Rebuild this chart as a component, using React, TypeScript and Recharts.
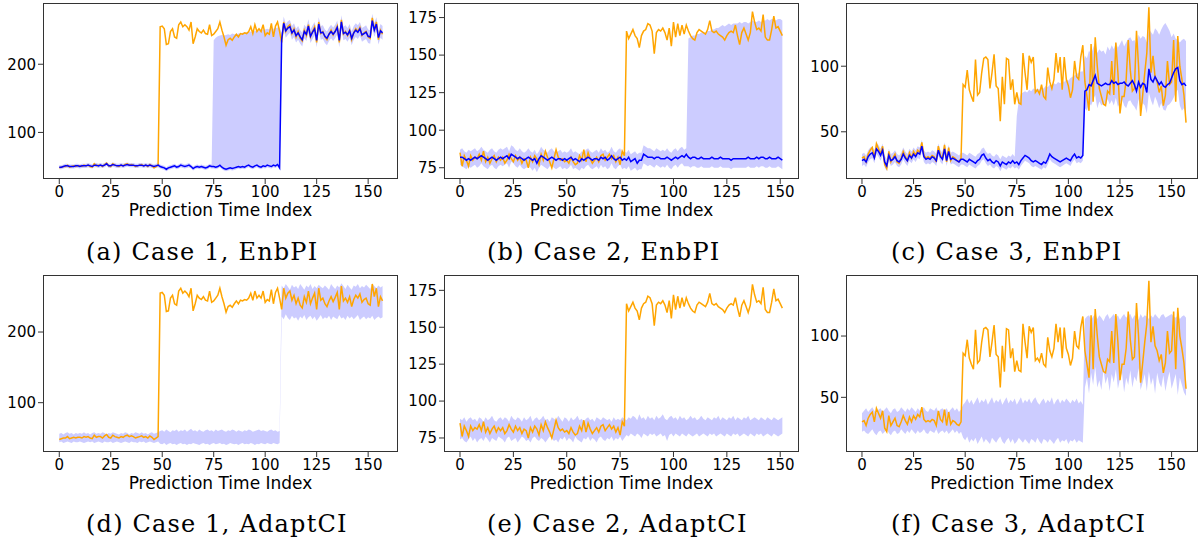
import { ComposedChart, Line, Area, XAxis, YAxis } from 'recharts';

// ---- data ----

const X_TICKS = [0, 25, 50, 75, 100, 125, 150];

// Case 1 (indices 0..157)
const C1_TRUTH = [
  48, 49, 50, 50, 52, 49, 50, 51, 50, 51,
  51, 50, 52, 51, 52, 50, 49, 54, 51, 52,
  52, 50, 53, 55, 51, 50, 54, 52, 51, 50,
  52, 51, 53, 54, 52, 53, 52, 50, 51, 52,
  53, 51, 52, 50, 53, 51, 48, 50, 52, 255,
  256, 252, 229, 230, 248, 252, 240, 238, 258, 262,
  255, 258, 255, 250, 262, 230, 240, 252, 248, 246,
  250, 245, 244, 258, 242, 244, 248, 252, 262, 250,
  240, 228, 236, 238, 235, 240, 244, 240, 245, 244,
  246, 245, 248, 255, 245, 258, 248, 252, 248, 258,
  242, 246, 244, 260, 240, 256, 262, 248, 232, 262,
  248, 255, 258, 245, 252, 240, 248, 238, 234, 250,
  242, 258, 240, 248, 255, 232, 262, 245, 248, 240,
  236, 244, 250, 243, 249, 256, 232, 265, 244, 248,
  242, 250, 236, 246, 252, 248, 254, 242, 246, 248,
  240, 238, 268, 250, 262, 236, 250, 244,
];
const C1_PRED = [
  49, 49, 50, 51, 51, 50, 50, 50, 51, 51,
  50, 51, 51, 51, 52, 51, 50, 52, 52, 51,
  52, 51, 52, 54, 51, 51, 53, 52, 51, 51,
  52, 51, 52, 53, 52, 52, 52, 51, 51, 52,
  52, 51, 52, 51, 52, 51, 50, 51, 52, 50,
  49, 48, 46, 48, 49, 50, 51, 49, 50, 52,
  51, 50, 51, 52, 50, 47, 49, 50, 49, 50,
  49, 48, 49, 51, 50, 50, 49, 50, 52, 49,
  47, 46, 47, 48, 47, 48, 49, 50, 49, 50,
  49, 51, 52, 50, 49, 51, 52, 50, 49, 51,
  50, 52, 51, 50, 52, 51, 53, 48, 236, 260,
  249, 253, 255, 246, 250, 242, 246, 240, 236, 248,
  244, 256, 241, 247, 252, 235, 259, 246, 247, 241,
  238, 244, 248, 244, 248, 254, 235, 262, 245, 247,
  243, 249, 238, 246, 250, 247, 252, 243, 245, 247,
  241, 240, 264, 250, 259, 239, 249, 246,
];
const C1_ENB_LO = [
  46, 46, 47, 48, 48, 47, 47, 47, 48, 48,
  47, 48, 48, 48, 49, 48, 47, 49, 49, 48,
  49, 48, 49, 51, 48, 48, 50, 49, 48, 48,
  49, 48, 49, 50, 49, 49, 49, 48, 48, 49,
  49, 48, 49, 48, 49, 48, 47, 48, 49, 47,
  46, 45, 43, 45, 46, 47, 48, 46, 47, 49,
  48, 47, 48, 49, 47, 44, 46, 47, 46, 47,
  46, 45, 46, 48, 47, 47, 46, 47, 49, 46,
  44, 43, 44, 45, 44, 45, 46, 47, 46, 47,
  46, 48, 49, 47, 46, 48, 49, 47, 46, 48,
  47, 49, 48, 47, 49, 48, 50, 45, 226, 250,
  239, 243, 246, 236, 240, 232, 236, 230, 226, 238,
  234, 246, 231, 237, 242, 225, 249, 236, 237, 231,
  228, 234, 238, 234, 238, 244, 225, 252, 235, 237,
  233, 239, 228, 236, 240, 237, 242, 233, 235, 237,
  231, 230, 254, 240, 249, 229, 239, 236,
];
const C1_ENB_HI = [
  52, 52, 53, 54, 54, 53, 53, 53, 54, 54,
  53, 54, 54, 54, 55, 54, 53, 55, 55, 54,
  55, 54, 55, 57, 54, 54, 56, 55, 54, 54,
  55, 54, 55, 56, 55, 55, 55, 54, 54, 55,
  55, 54, 55, 54, 55, 54, 53, 54, 55, 53,
  52, 51, 49, 51, 52, 53, 54, 52, 53, 55,
  54, 53, 54, 55, 53, 50, 52, 53, 52, 53,
  52, 51, 52, 54, 53, 235, 239, 241, 242, 243,
  242, 243, 244, 243, 245, 244, 244, 245, 245, 246,
  246, 247, 247, 248, 247, 249, 248, 250, 250, 251,
  251, 252, 251, 253, 252, 253, 254, 254, 246, 270,
  259, 263, 265, 256, 260, 252, 256, 250, 246, 258,
  254, 266, 251, 257, 262, 245, 269, 256, 257, 251,
  248, 254, 258, 254, 258, 264, 245, 272, 255, 257,
  253, 259, 248, 256, 260, 257, 262, 253, 255, 257,
  251, 250, 274, 260, 269, 249, 259, 256,
];
const C1_ADA_LO = [
  44, 45, 43, 44, 45, 44, 43, 45, 44, 44,
  45, 44, 43, 44, 45, 44, 45, 43, 44, 45,
  44, 43, 45, 44, 44, 45, 43, 44, 45, 44,
  43, 44, 45, 44, 43, 45, 44, 44, 43, 45,
  44, 45, 43, 44, 45, 44, 43, 44, 45, 42,
  41, 43, 40, 42, 43, 41, 42, 40, 42, 43,
  41, 42, 40, 42, 41, 43, 42, 41, 40, 42,
  43, 41, 42, 40, 42, 43, 41, 42, 43, 41,
  42, 40, 41, 43, 42, 41, 42, 40, 42, 43,
  41, 42, 41, 43, 42, 40, 42, 41, 43, 42,
  41, 43, 42, 41, 43, 42, 41, 43, 222, 218,
  225, 220, 217, 223, 219, 221, 216, 222, 219, 224,
  217, 221, 223, 218, 222, 216, 220, 224, 218, 221,
  219, 223, 217, 222, 220, 218, 224, 219, 221, 217,
  223, 219, 222, 218, 221, 224, 217, 220, 222, 218,
  221, 219, 223, 217, 220, 222, 219, 221,
];
const C1_ADA_HI = [
  56, 57, 55, 57, 58, 56, 57, 55, 57, 56,
  57, 56, 58, 56, 57, 55, 57, 58, 56, 57,
  56, 58, 57, 55, 57, 56, 58, 57, 56, 55,
  57, 56, 58, 57, 55, 57, 56, 58, 57, 56,
  58, 56, 57, 55, 57, 58, 56, 57, 58, 60,
  61, 59, 62, 60, 58, 61, 60, 62, 59, 61,
  60, 62, 59, 61, 63, 60, 61, 59, 62, 60,
  59, 61, 62, 60, 61, 59, 62, 60, 61, 62,
  60, 59, 61, 60, 62, 61, 59, 61, 60, 59,
  61, 60, 62, 61, 59, 60, 61, 62, 60, 61,
  60, 59, 61, 62, 60, 61, 59, 60, 266, 262,
  268, 264, 260, 267, 263, 265, 261, 268, 264, 260,
  266, 263, 268, 261, 265, 262, 267, 264, 262, 266,
  263, 260, 268, 264, 261, 266, 263, 269, 265, 261,
  267, 263, 260, 266, 264, 268, 262, 265, 263, 267,
  264, 261, 268, 265, 262, 266, 263, 265,
];

// Case 2 (indices 0..151)
const C2_TRUTH = [
  85, 76, 83, 80, 76, 83, 80, 82, 81, 84,
  80, 86, 79, 82, 78, 81, 83, 79, 82, 80,
  82, 78, 80, 84, 81, 79, 83, 80, 82, 78,
  81, 80, 75, 82, 79, 83, 81, 77, 84, 80,
  86, 82, 79, 75, 81, 87, 82, 80, 81, 79,
  80, 78, 82, 79, 77, 78, 83, 80, 87, 79,
  85, 81, 78, 80, 82, 79, 83, 84, 80, 82,
  84, 81, 83, 79, 82, 77, 86, 83, 166, 161,
  164, 167, 163, 161, 155, 163, 166, 167, 171, 170,
  166, 151, 165, 167, 166, 168, 165, 160, 168, 156,
  172, 162, 171, 163, 170, 164, 170, 166, 163, 161,
  160, 165, 167, 166, 165, 164, 167, 173, 166, 165,
  166, 164, 163, 162, 160, 163, 165, 166, 165, 170,
  163, 157, 165, 168, 164, 160, 165, 179, 172, 167,
  168, 166, 177, 162, 160, 160, 167, 176, 168, 169,
  166, 163,
];
const C2_PRED = [
  82, 82, 81, 80, 81, 80, 81, 82, 81, 82,
  83, 82, 81, 80, 81, 82, 81, 80, 81, 82,
  81, 82, 83, 81, 84, 83, 82, 81, 82, 81,
  80, 81, 82, 81, 80, 81, 78, 81, 83, 82,
  81, 80, 81, 82, 81, 80, 81, 81, 80, 81,
  80, 81, 82, 80, 81, 80, 79, 81, 80, 81,
  82, 81, 80, 81, 81, 80, 82, 81, 82, 80,
  81, 83, 81, 80, 81, 82, 80, 81, 80, 82,
  79, 80, 81, 78, 80, 80, 84, 83, 82, 82,
  82, 81, 82, 82, 81, 81, 81, 82, 81, 80,
  81, 82, 81, 82, 83, 82, 84, 82, 81, 82,
  82, 81, 81, 82, 81, 81, 81, 81, 82, 81,
  81, 81, 82, 81, 81, 81, 81, 80, 81, 81,
  81, 81, 81, 81, 81, 82, 81, 81, 81, 82,
  81, 82, 82, 81, 81, 82, 81, 81, 81, 82,
  81, 80,
];
const C2_ENB_LO = [
  77, 76, 75, 74, 76, 75, 76, 77, 75, 76,
  78, 76, 75, 74, 76, 77, 75, 74, 76, 77,
  76, 77, 78, 75, 79, 78, 76, 75, 77, 75,
  74, 75, 76, 75, 73, 75, 72, 75, 77, 76,
  75, 74, 76, 77, 75, 74, 75, 76, 74, 75,
  74, 75, 77, 74, 75, 74, 73, 75, 74, 76,
  77, 75, 74, 75, 76, 74, 77, 75, 76, 74,
  75, 78, 75, 74, 76, 77, 74, 75, 74, 76,
  73, 74, 75, 73, 74, 74, 78, 77, 76, 77,
  76, 75, 77, 76, 75, 76, 75, 77, 75, 74,
  76, 77, 75, 77, 78, 76, 76, 76, 75, 76,
  76, 75, 75, 76, 75, 75, 75, 75, 76, 75,
  75, 75, 76, 75, 75, 75, 75, 74, 75, 75,
  75, 75, 75, 75, 75, 76, 75, 75, 75, 76,
  75, 76, 76, 75, 75, 76, 75, 75, 75, 76,
  75, 74,
];
const C2_ENB_HI = [
  87, 88, 86, 85, 87, 86, 87, 88, 86, 87,
  89, 87, 86, 85, 87, 88, 86, 85, 87, 88,
  87, 88, 89, 86, 90, 89, 87, 86, 88, 86,
  85, 86, 88, 86, 85, 87, 84, 86, 89, 87,
  86, 85, 87, 88, 86, 85, 86, 87, 85, 86,
  85, 86, 88, 85, 86, 85, 84, 86, 85, 87,
  88, 86, 85, 86, 87, 85, 88, 86, 87, 85,
  86, 89, 86, 85, 87, 88, 85, 86, 85, 87,
  84, 85, 86, 84, 85, 85, 90, 89, 88, 88,
  87, 86, 88, 87, 86, 87, 86, 88, 86, 85,
  87, 88, 86, 88, 89, 87, 88, 161, 162, 163,
  163, 164, 164, 165, 165, 165, 166, 166, 167, 167,
  168, 168, 169, 170, 169, 170, 171, 170, 171, 171,
  171, 172, 171, 172, 172, 171, 172, 173, 172, 172,
  173, 172, 173, 173, 174, 173, 174, 174, 173, 174,
  174, 173,
];
const C2_ADA_LO = [
  74, 75, 73, 72, 74, 76, 73, 75, 72, 74,
  75, 73, 76, 74, 72, 75, 74, 73, 76, 75,
  74, 72, 75, 76, 73, 74, 75, 72, 74, 76,
  75, 73, 74, 72, 75, 76, 74, 73, 75, 74,
  72, 74, 76, 75, 73, 74, 72, 75, 74, 76,
  73, 75, 74, 72, 76, 74, 73, 72, 75, 74,
  76, 73, 75, 74, 72, 75, 76, 74, 73, 75,
  74, 76, 73, 75, 74, 76, 73, 75, 77, 76,
  78, 77, 76, 78, 77, 75, 78, 77, 76, 78,
  77, 78, 76, 77, 78, 76, 77, 73, 77, 78,
  76, 78, 77, 76, 78, 77, 76, 78, 77, 76,
  77, 78, 76, 77, 78, 77, 76, 78, 77, 78,
  76, 77, 78, 77, 76, 78, 77, 76, 78, 77,
  78, 76, 77, 78, 77, 76, 78, 77, 76, 78,
  77, 78, 76, 77, 78, 77, 76, 78, 77, 76,
  77, 78,
];
const C2_ADA_HI = [
  88, 87, 89, 86, 88, 89, 87, 88, 86, 89,
  88, 86, 89, 87, 88, 90, 87, 86, 88, 89,
  87, 89, 88, 86, 90, 88, 87, 89, 88, 86,
  89, 87, 88, 90, 86, 88, 89, 87, 88, 90,
  87, 88, 86, 89, 88, 87, 90, 88, 86, 89,
  88, 86, 89, 87, 88, 90, 87, 88, 86, 88,
  89, 87, 88, 86, 89, 88, 87, 89, 88, 87,
  88, 86, 89, 87, 88, 87, 89, 88, 87, 89,
  88, 90, 89, 87, 91, 88, 89, 87, 90, 88,
  89, 87, 90, 88, 89, 91, 88, 87, 89, 90,
  88, 89, 87, 90, 88, 89, 87, 88, 90, 88,
  89, 87, 88, 90, 88, 87, 89, 88, 87, 89,
  88, 90, 87, 89, 88, 87, 89, 88, 90, 87,
  89, 88, 87, 89, 88, 90, 87, 88, 89, 88,
  87, 89, 88, 87, 89, 88, 87, 89, 88, 87,
  88, 89,
];

// Case 3 (indices 0..157)
const C3_TRUTH = [
  30, 31, 27, 33, 36, 38, 30, 41, 37, 33,
  39, 25, 22, 35, 27, 30, 33, 27, 26, 30,
  35, 31, 28, 34, 30, 35, 32, 36, 34, 42,
  32, 30, 31, 30, 32, 31, 27, 39, 32, 30,
  40, 27, 38, 28, 31, 30, 28, 27, 30, 86,
  84, 97, 82, 77, 73, 105, 78, 80, 95, 106,
  107, 105, 83, 95, 109, 85, 83, 58, 92, 71,
  106, 105, 82, 90, 71, 80, 72, 71, 110, 95,
  82, 108, 103, 107, 80, 82, 79, 86, 77, 75,
  99, 88, 83, 90, 110, 95, 107, 82, 107, 90,
  85, 76, 82, 104, 92, 90, 107, 116, 88, 77,
  66, 117, 73, 122, 100, 83, 77, 71, 70, 81,
  79, 104, 78, 118, 95, 64, 77, 77, 90, 120,
  97, 81, 83, 127, 100, 62, 78, 95, 110, 145,
  95, 108, 92, 88, 80, 85, 70, 78, 104, 86,
  88, 120, 73, 123, 100, 90, 78, 57,
];
const C3_PRED = [
  28, 29, 27, 31, 33, 34, 30, 37, 35, 32,
  36, 27, 24, 32, 28, 29, 31, 28, 27, 29,
  33, 30, 28, 32, 30, 33, 31, 34, 33, 39,
  31, 29, 30, 29, 31, 30, 28, 36, 31, 29,
  37, 28, 35, 29, 30, 29, 28, 27, 29, 29,
  28, 27, 29, 28, 27, 26, 28, 29, 32, 33,
  30, 28, 29, 27, 26, 28, 27, 24, 27, 26,
  25, 27, 26, 28, 26, 27, 25, 28, 30, 32,
  31, 30, 28, 27, 28, 27, 26, 25, 27, 26,
  29, 33, 31, 30, 29, 28, 27, 28, 29, 30,
  29, 28, 31, 33, 30, 31, 30, 32, 81, 82,
  86, 85, 89, 93, 87, 86, 85, 86, 87, 86,
  86, 89, 87, 88, 86, 87, 87, 88, 86, 85,
  87, 89, 86, 81, 88, 84, 87, 86, 80, 98,
  90, 88, 92, 89, 86, 88, 85, 84, 86, 87,
  91, 95, 98, 99, 89, 86, 87, 85,
];
const C3_ENB_LO = [
  24, 25, 23, 27, 29, 30, 26, 33, 31, 28,
  32, 23, 20, 28, 24, 25, 27, 24, 23, 25,
  29, 26, 24, 28, 26, 29, 27, 30, 29, 35,
  27, 25, 26, 25, 27, 26, 24, 32, 27, 25,
  33, 24, 31, 25, 26, 25, 24, 23, 25, 25,
  24, 23, 25, 24, 23, 22, 24, 25, 28, 29,
  26, 24, 25, 23, 22, 24, 23, 20, 23, 22,
  21, 23, 22, 24, 22, 23, 21, 24, 26, 28,
  27, 26, 24, 23, 24, 23, 22, 21, 23, 22,
  25, 29, 27, 26, 25, 24, 23, 24, 25, 26,
  25, 24, 27, 29, 26, 27, 26, 28, 68, 66,
  72, 70, 74, 78, 68, 73, 70, 72, 69, 75,
  71, 74, 70, 76, 69, 72, 75, 70, 68, 73,
  74, 71, 69, 66, 75, 67, 72, 70, 64, 80,
  74, 70, 77, 73, 68, 72, 67, 66, 70, 71,
  73, 76, 80, 82, 70, 66, 68, 64,
];
const C3_ENB_HI = [
  33, 34, 32, 36, 38, 39, 35, 42, 40, 37,
  41, 32, 29, 37, 33, 34, 36, 33, 32, 34,
  38, 35, 33, 37, 35, 38, 36, 39, 38, 44,
  36, 34, 35, 34, 36, 35, 33, 41, 36, 34,
  42, 33, 40, 34, 35, 34, 33, 32, 34, 34,
  33, 32, 34, 33, 32, 31, 33, 34, 37, 38,
  35, 33, 34, 32, 31, 33, 32, 29, 32, 31,
  30, 32, 31, 33, 31, 62, 74, 79, 80, 81,
  80, 82, 81, 83, 82, 83, 82, 84, 83, 85,
  84, 86, 85, 87, 86, 88, 87, 89, 88, 90,
  89, 91, 92, 93, 94, 95, 96, 96, 108, 106,
  112, 109, 114, 118, 110, 113, 111, 112, 109, 115,
  112, 116, 113, 118, 114, 117, 120, 115, 118, 121,
  122, 119, 120, 116, 124, 121, 123, 122, 118, 128,
  126, 124, 129, 127, 124, 128, 131, 133, 130, 127,
  122, 125, 121, 120, 118, 120, 121, 119,
];
const C3_ADA_LO = [
  22, 23, 21, 20, 22, 24, 21, 19, 22, 23,
  20, 22, 24, 21, 19, 22, 23, 20, 21, 24,
  22, 20, 23, 21, 24, 22, 20, 23, 21, 22,
  24, 21, 20, 23, 22, 21, 24, 20, 22, 23,
  21, 23, 20, 22, 24, 21, 23, 20, 22, 17,
  15, 18, 13, 16, 14, 17, 12, 15, 18, 13,
  16, 14, 12, 17, 15, 13, 16, 18, 14, 12,
  15, 17, 13, 16, 12, 14, 17, 15, 13, 16,
  14, 12, 16, 15, 13, 17, 14, 12, 16, 15,
  13, 16, 14, 12, 15, 17, 13, 15, 14, 16,
  12, 15, 14, 16, 13, 15, 14, 13, 58, 66,
  53, 70, 60, 75, 58, 64, 56, 72, 61, 67,
  55, 69, 62, 73, 57, 65, 70, 54, 66, 60,
  72, 58, 67, 63, 74, 56, 62, 69, 55, 71,
  60, 66, 53, 70, 62, 58, 68, 55, 64, 71,
  57, 63, 69, 52, 66, 60, 54, 51,
];
const C3_ADA_HI = [
  37, 39, 41, 38, 40, 42, 39, 37, 40, 41,
  38, 40, 42, 39, 37, 40, 41, 38, 39, 42,
  40, 38, 41, 39, 42, 40, 38, 41, 39, 40,
  42, 39, 38, 41, 40, 39, 42, 38, 40, 41,
  39, 41, 38, 40, 42, 39, 41, 38, 40, 44,
  46, 49, 45, 48, 44, 47, 50, 45, 48, 46,
  49, 44, 47, 50, 45, 48, 46, 49, 44, 47,
  50, 45, 48, 46, 49, 44, 47, 50, 45, 48,
  46, 49, 45, 48, 50, 46, 44, 47, 49, 45,
  48, 46, 50, 44, 47, 49, 45, 48, 46, 49,
  47, 45, 48, 46, 49, 45, 47, 44, 114, 116,
  117, 113, 116, 118, 114, 117, 115, 112, 116, 118,
  114, 116, 118, 115, 117, 113, 116, 118, 115, 117,
  118, 114, 117, 116, 113, 118, 115, 117, 116, 114,
  117, 115, 118, 116, 114, 117, 118, 115, 116, 117,
  118, 116, 115, 117, 114, 116, 117, 115,
];

// ---- layout ----

const YW = 50; // y axis width
const MT = 6;
const MR = 6;
const XH = 40;

type Box = { x: number; y: number; w: number; h: number };
type PanelDef = {
  box: Box;
  xDomain: [number, number];
  yDomain: [number, number];
  yTicks: number[];
  truth: number[];
  pred?: number[];
  lo: number[];
  hi: number[];
  caption: string;
  capX: number;
};

const PANELS: PanelDef[] = [
  { box: { x: 43, y: 3, w: 355, h: 176 }, xDomain: [-7.9, 164.5], yDomain: [31.7, 289.8], yTicks: [100, 200],
    truth: C1_TRUTH, pred: C1_PRED, lo: C1_ENB_LO, hi: C1_ENB_HI, caption: '(a) Case 1, EnbPI', capX: 86 },
  { box: { x: 444, y: 3, w: 355, h: 176 }, xDomain: [-7.5, 158.8], yDomain: [67.5, 184.7], yTicks: [75, 100, 125, 150, 175],
    truth: C2_TRUTH, pred: C2_PRED, lo: C2_ENB_LO, hi: C2_ENB_HI, caption: '(b) Case 2, EnbPI', capX: 487 },
  { box: { x: 846, y: 3, w: 352, h: 176 }, xDomain: [-7.74, 162.8], yDomain: [14, 148.2], yTicks: [50, 100],
    truth: C3_TRUTH, pred: C3_PRED, lo: C3_ENB_LO, hi: C3_ENB_HI, caption: '(c) Case 3, EnbPI', capX: 891 },
  { box: { x: 43, y: 275, w: 355, h: 177 }, xDomain: [-7.9, 164.5], yDomain: [30.2, 280.7], yTicks: [100, 200],
    truth: C1_TRUTH, lo: C1_ADA_LO, hi: C1_ADA_HI, caption: '(d) Case 1, AdaptCI', capX: 86 },
  { box: { x: 444, y: 275, w: 355, h: 177 }, xDomain: [-7.5, 158.8], yDomain: [65.5, 185.4], yTicks: [75, 100, 125, 150, 175],
    truth: C2_TRUTH, lo: C2_ADA_LO, hi: C2_ADA_HI, caption: '(e) Case 2, AdaptCI', capX: 487 },
  { box: { x: 846, y: 275, w: 352, h: 177 }, xDomain: [-7.74, 162.8], yDomain: [5.4, 149.8], yTicks: [50, 100],
    truth: C3_TRUTH, lo: C3_ADA_LO, hi: C3_ADA_HI, caption: '(f) Case 3, AdaptCI', capX: 891 },
];

const tickStyle = { fontSize: 15, fill: '#000', fontFamily: '"DejaVu Sans", sans-serif' };

function Panel({ p }: { p: PanelDef }) {
  const data = p.truth.map((t, i) => ({
    i,
    truth: t,
    pred: p.pred ? p.pred[i] : undefined,
    band: [p.lo[i], p.hi[i]],
  }));
  const { x, y, w, h } = p.box;
  return (
    <>
      <div style={{ position: 'absolute', left: x - YW, top: y - MT }}>
        <ComposedChart
          width={w + YW + MR}
          height={h + MT + XH}
          data={data}
          margin={{ top: MT, right: MR, left: 0, bottom: 0 }}
        >
          <XAxis
            dataKey="i"
            type="number"
            domain={p.xDomain}
            ticks={X_TICKS}
            interval={0}
            allowDataOverflow
            height={XH}
            axisLine={false}
            tickSize={5}
            tickLine={{ stroke: '#333' }}
            tick={tickStyle}
          />
          <YAxis
            type="number"
            domain={p.yDomain}
            ticks={p.yTicks}
            interval={0}
            allowDataOverflow
            width={YW}
            axisLine={false}
            tickSize={5}
            tickLine={{ stroke: '#333' }}
            tick={tickStyle}
          />
          <Area
            type="linear"
            dataKey="band"
            stroke="none"
            fill="#ccccff"
            fillOpacity={1}
            isAnimationActive={false}
          />
          <Line
            type="linear"
            dataKey="truth"
            stroke="#ffa500"
            strokeWidth={1.5}
            dot={false}
            isAnimationActive={false}
          />
          {p.pred && (
            <Line
              type="linear"
              dataKey="pred"
              stroke="#0000ff"
              strokeWidth={1.5}
              dot={false}
              isAnimationActive={false}
            />
          )}
        </ComposedChart>
      </div>
      {/* axes frame */}
      <div style={{
        position: 'absolute', left: x, top: y, width: w, height: h,
        border: '1px solid #333', boxSizing: 'border-box', pointerEvents: 'none',
      }} />
      <div style={{
        position: 'absolute', left: x, top: y + h + 21, width: w, lineHeight: '20px',
        textAlign: 'center', fontSize: 17, fontFamily: '"DejaVu Sans", sans-serif', color: '#000',
      }}>
        Prediction Time Index
      </div>
      <div style={{
        position: 'absolute', left: p.capX, top: y + 234, lineHeight: '30px', whiteSpace: 'nowrap',
        fontSize: 24, letterSpacing: '1.2px', fontFamily: '"DejaVu Serif", serif', color: '#000',
      }}>
        {p.caption}
      </div>
    </>
  );
}

export default function App() {
  return (
    <div style={{
      position: 'absolute', left: 0, top: 0, width: 1199, height: 544,
      background: '#fff', overflow: 'hidden',
    }}>
      {PANELS.map((p) => <Panel key={p.caption} p={p} />)}
    </div>
  );
}
